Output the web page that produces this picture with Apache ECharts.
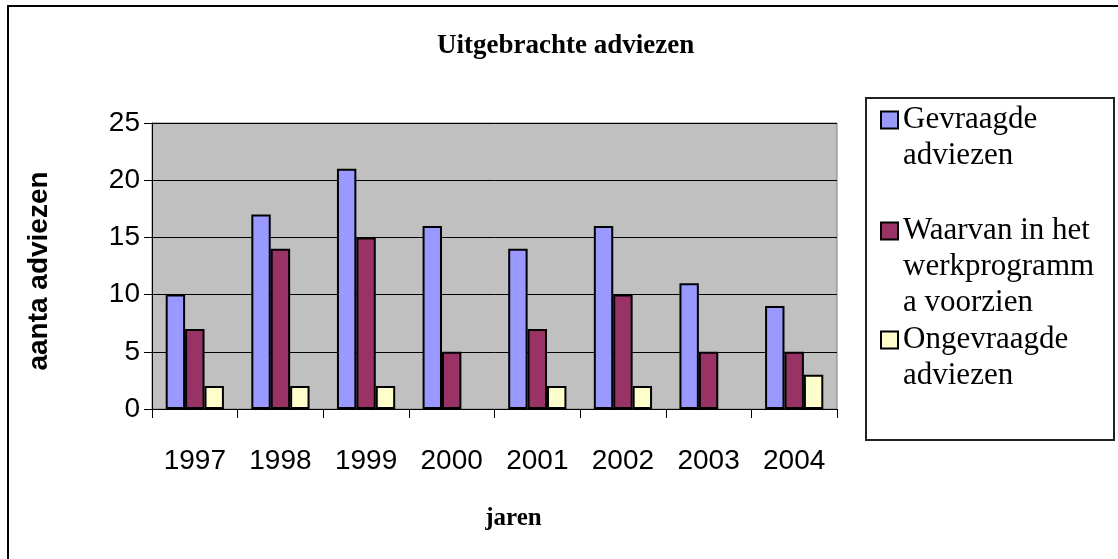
<!DOCTYPE html>
<html>
<head>
<meta charset="utf-8">
<script src="https://cdn.jsdelivr.net/npm/echarts@6/dist/echarts.min.js"></script>
<style>
  html, body { margin: 0; padding: 0; background: #fff; }
  #chart { width: 1118px; height: 559px; }
</style>
</head>
<body>
<div id="chart"></div>
<script>
var years = ['1997', '1998', '1999', '2000', '2001', '2002', '2003', '2004'];
var gevraagd = [10, 17, 21, 16, 14, 16, 11, 9];
var werkprogramma = [7, 14, 15, 5, 7, 10, 5, 5];
var ongevraagd = [2, 2, 2, 0, 2, 2, 0, 3];

var names = ['Gevraagde\nadviezen', 'Waarvan in het\nwerkprogramm\na voorzien', 'Ongevraagde\nadviezen'];
var colors = ['#9999FF', '#993366', '#FFFFCC'];

var serif = '"Liberation Serif", "Times New Roman", serif';
var sans = '"Liberation Sans", Arial, sans-serif';

var lineH = 36;
// first-line centre of each legend entry
var legendCentres = [120, 231, 340];

function makeLegend(i) {
    var n = names[i].split('\n').length;
    return {
        data: [names[i]],
        orient: 'vertical',
        left: 880,
        top: legendCentres[i] - (2 * n - 1) * lineH / 2,
        padding: 0,
        itemWidth: 17,
        itemHeight: 17,
        selectedMode: false,
        icon: 'rect',
        itemStyle: { borderColor: '#000', borderWidth: 2 },
        // empty lines in front so the first real line sits next to the marker
        formatter: function (name) {
            var pad = '';
            for (var k = 1; k < n; k++) pad += ' \n';
            return pad + name;
        },
        textStyle: {
            fontFamily: serif,
            fontSize: 31,
            color: '#000',
            lineHeight: lineH
        }
    };
}

function makeSeries(i, values) {
    return {
        name: names[i],
        type: 'bar',
        data: values.map(function (v) {
            return v === 0 ? { value: v, itemStyle: { borderWidth: 0 } } : v;
        }),
        barGap: '0%',
        barCategoryGap: '32%',
        itemStyle: { color: colors[i], borderColor: '#000', borderWidth: 2 }
    };
}

var myChart = echarts.init(document.getElementById('chart'));

var option = {
    animation: false,
    backgroundColor: '#fff',
    title: {
        text: 'Uitgebrachte adviezen',
        left: 437,
        top: 33,
        padding: 0,
        textStyle: { fontFamily: serif, fontSize: 27, fontWeight: 'bold', color: '#000' }
    },
    graphic: [
        {
            type: 'rect',
            z: -10,
            shape: { x: 8, y: 6, width: 1300, height: 700 },
            style: { fill: '#fff', stroke: '#000', lineWidth: 2 }
        },
        {
            type: 'rect',
            z: -5,
            shape: { x: 866, y: 98, width: 248, height: 342 },
            style: { fill: '#fff', stroke: '#222', lineWidth: 2 }
        }
    ],
    legend: [makeLegend(0), makeLegend(1), makeLegend(2)],
    grid: {
        left: 152,
        top: 123,
        right: 281,
        bottom: 150,
        show: true,
        backgroundColor: '#C0C0C0',
        borderColor: '#808080',
        borderWidth: 1
    },
    xAxis: {
        type: 'category',
        data: years,
        name: 'jaren',
        nameLocation: 'middle',
        nameGap: 97,
        nameTextStyle: {
            fontFamily: serif, fontSize: 25, fontWeight: 'bold', color: '#000',
            padding: [0, 0, 0, 38]
        },
        axisLine: { lineStyle: { color: '#000', width: 1 } },
        axisTick: { show: true, length: 9, lineStyle: { color: '#000' } },
        axisLabel: { fontFamily: sans, fontSize: 28, color: '#000', margin: 38 }
    },
    yAxis: {
        type: 'value',
        min: 0,
        max: 25,
        interval: 5,
        name: 'aanta adviezen',
        nameLocation: 'middle',
        nameGap: 99,
        nameTextStyle: {
            fontFamily: sans, fontSize: 28, fontWeight: 'bold', color: '#000',
            padding: [0, 10, 0, 0]
        },
        axisLine: { show: true, lineStyle: { color: '#000', width: 1 } },
        axisTick: { show: true, length: 8, lineStyle: { color: '#000' } },
        axisLabel: { fontFamily: sans, fontSize: 28, color: '#000', margin: 12 },
        splitLine: { lineStyle: { color: '#000', width: 1 } }
    },
    series: [
        makeSeries(0, gevraagd),
        makeSeries(1, werkprogramma),
        makeSeries(2, ongevraagd)
    ]
};

myChart.setOption(option);
</script>
</body>
</html>
